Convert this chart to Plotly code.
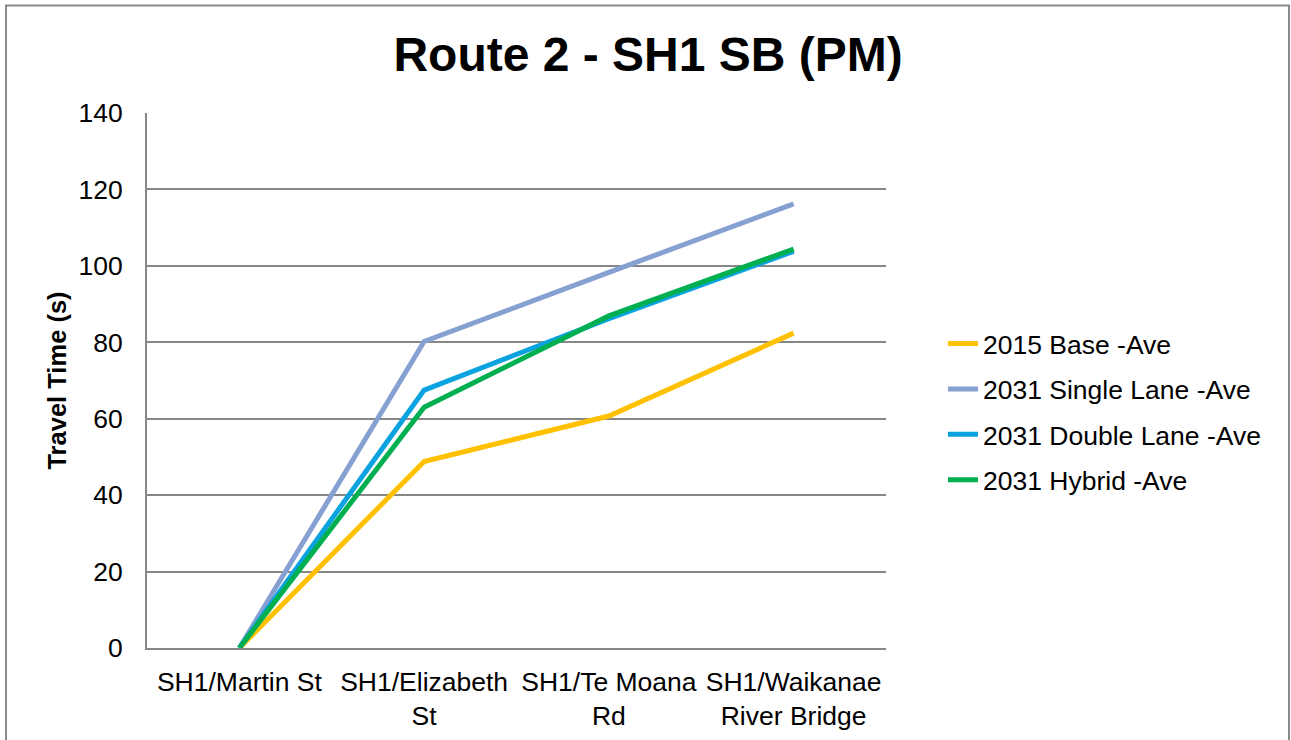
import plotly.graph_objects as go

categories = ["SH1/Martin St", "SH1/Elizabeth<br>St", "SH1/Te Moana<br>Rd", "SH1/Waikanae<br>River Bridge"]
series_names = ["2015 Base -Ave", "2031 Single Lane -Ave", "2031 Double Lane -Ave", "2031 Hybrid -Ave"]
base_2015 = [0, 48.8, 60.7, 82.4]
single_2031 = [0, 80.2, 98.3, 116.2]
double_2031 = [0, 67.5, 86.2, 103.8]
hybrid_2031 = [0, 63.0, 86.9, 104.4]
colors = ["#FFC000", "#86A0D2", "#0AA2DF", "#00B050"]

fig = go.Figure()
for i, (name, vals, col) in enumerate(zip(series_names, [base_2015, single_2031, double_2031, hybrid_2031], colors)):
    fig.add_trace(go.Scatter(
        x=categories, y=vals, name=name, mode="lines",
        line=dict(color=col, width=5), legendgroup=f"g{i}",
    ))

font_family = "Arial, Liberation Sans, sans-serif"
fig.update_layout(
    width=1291, height=740,
    margin=dict(l=147, r=405, t=113, b=92, autoexpand=False),
    paper_bgcolor="white", plot_bgcolor="white",
    font=dict(family=font_family, size=26.5, color="black"),
    title=dict(text="<b>Route 2 - SH1 SB (PM)</b>", x=0.502, xanchor="center",
               y=1 - 54 / 740, yanchor="middle", font=dict(size=48, color="black")),
    showlegend=True,
    legend=dict(x=1.0771, xanchor="left", y=0.4416, yanchor="middle",
                font=dict(size=26.5), tracegroupgap=8, bgcolor="rgba(0,0,0,0)"),
    xaxis=dict(type="category", range=[-0.5, 3.5], showgrid=False, automargin=False,
               showline=True, linecolor="#878787", linewidth=2,
               tickfont=dict(size=26.5), ticks="", zeroline=False, ticklabelstandoff=9),
    yaxis=dict(range=[0, 140], dtick=20, showgrid=True, gridcolor="#878787", gridwidth=2,
               showline=True, linecolor="#878787", linewidth=2, zeroline=False, automargin=False,
               ticks="", ticklabelstandoff=17, tickfont=dict(size=26.5),
               title=dict(text="<b>Travel Time (s)</b>", font=dict(size=25.5), standoff=5)),
    shapes=[dict(type="rect", xref="paper", yref="paper",
                 x0=(6 - 147) / 739, x1=(1289 - 147) / 739,
                 y0=(648 - 760) / 535, y1=(648 - 5.5) / 535,
                 line=dict(color="#8A8A8A", width=2), fillcolor="rgba(0,0,0,0)", layer="below")],
)

fig.write_html("out.html", config={"displayModeBar": False},
               post_script="document.body.style.margin='0';")
